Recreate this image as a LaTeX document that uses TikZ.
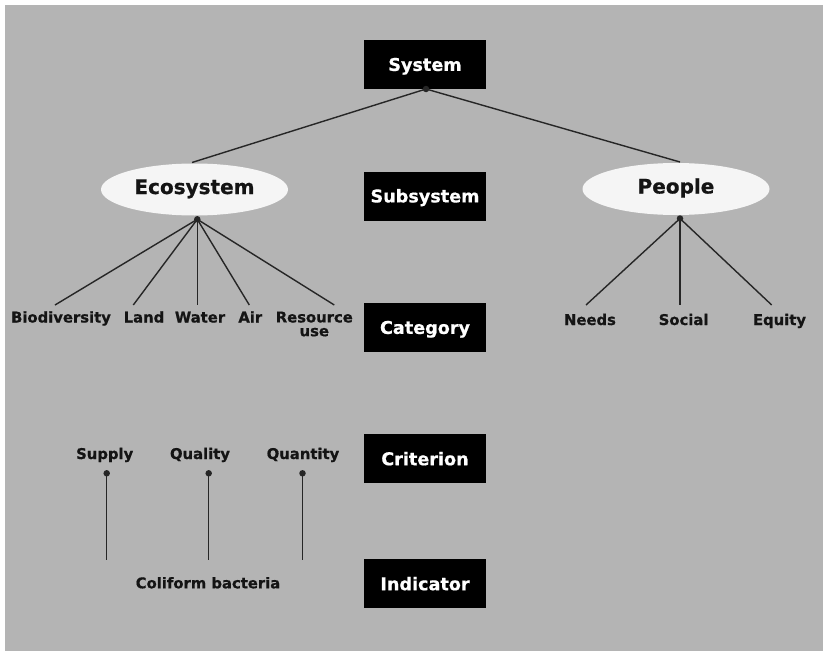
\documentclass[tikz,border=0pt]{standalone}
\usepackage{fontspec}
\setmainfont{DejaVu Sans}[BoldFeatures={FakeBold=0.7}]
\usetikzlibrary{shapes.geometric}
\definecolor{bgcol}{HTML}{B4B4B4}
\definecolor{ellcol}{HTML}{F5F5F5}
\definecolor{linecol}{HTML}{262626}
\definecolor{labelcol}{HTML}{141414}
\tikzset{
  levelbox/.style={fill=black, text=white, font=\bfseries\fontsize{17.6}{20}\selectfont,
    minimum width=122pt, minimum height=49pt, inner sep=0pt, text height=12.8pt, text depth=0pt},
  subsys/.style={ellipse, fill=ellcol, text=labelcol, font=\bfseries\fontsize{20}{22}\selectfont,
    minimum width=187pt, minimum height=52pt, inner sep=0pt, text height=14.6pt, text depth=5.6pt},
  lbl/.style={font=\bfseries\fontsize{14.8}{13.8}\selectfont, text=labelcol, inner sep=0pt, anchor=base},
  conn/.style={line width=1.4pt, draw=linecol},
  dot/.style={circle, fill=linecol, inner sep=0pt, minimum size=6.5pt}
}
\begin{document}
\begin{tikzpicture}[x=1pt,y=-1pt]
\useasboundingbox (0,0) rectangle (823,653);
\fill[white] (0,0) rectangle (823,653);
\fill[bgcol] (5,5) rectangle (823,651);

% level boxes
\node[levelbox] (sys) at (425,64.5) {System};
\node[levelbox] (subsysbox) at (425,196) {Subsystem};
\node[levelbox] (cat) at (425,327.5) {Category};
\node[levelbox] (crit) at (425,458.8) {Criterion};
\node[levelbox] (ind) at (425,583.8) {Indicator};

% subsystems
\node[subsys] (eco) at (194.5,189.5) {Ecosystem};
\node[subsys] (peo) at (676,189) {People};

% attachment points
\coordinate (ecoTop) at (192,162.5);
\coordinate (peoTop) at (680,162);
\node[dot] (sysdot) at (426,89) {};
\node[dot] (ecodot) at (197.3,219.3) {};
\node[dot] (peodot) at (680,218.5) {};

\draw[conn] (sysdot.center) -- (ecoTop);
\draw[conn] (sysdot.center) -- (peoTop);

% ecosystem categories
\node[lbl] (bio) at (61,322.5) {Biodiversity};
\node[lbl] (land) at (144,322.5) {Land};
\node[lbl] (water) at (200,322.5) {Water};
\node[lbl] (air) at (250.3,322.5) {Air};
\node[lbl, anchor=north, align=center] (res) at (314.3,311.4) {Resource\\use};

\coordinate (bioEnd) at (55,305);
\coordinate (landEnd) at (133.3,305);
\coordinate (waterEnd) at (197.3,305);
\coordinate (airEnd) at (249.3,305);
\coordinate (resEnd) at (334.3,305);
\foreach \e in {bioEnd,landEnd,waterEnd,airEnd,resEnd}
  \draw[conn] (ecodot.center) -- (\e);

% people categories
\node[lbl] (needs) at (590,325) {Needs};
\node[lbl] (social) at (683.6,325) {Social};
\node[lbl] (equity) at (779.5,325) {Equity};

\coordinate (needsEnd) at (586,305);
\coordinate (socialEnd) at (680,305);
\coordinate (equityEnd) at (771.7,305);
\foreach \e in {needsEnd,socialEnd,equityEnd}
  \draw[conn] (peodot.center) -- (\e);

% criteria
\node[lbl] (supply) at (104.7,459) {Supply};
\node[lbl] (quality) at (200,459) {Quality};
\node[lbl] (quantity) at (303,459) {Quantity};

\node[dot] (supdot) at (106.7,473.3) {};
\node[dot] (qualdot) at (208.7,473.3) {};
\node[dot] (quantdot) at (302.5,473.3) {};

\coordinate (supEnd) at (106.7,560);
\coordinate (qualEnd) at (208.7,560);
\coordinate (quantEnd) at (302.5,560);
\draw[conn] (supdot.center) -- (supEnd);
\draw[conn] (qualdot.center) -- (qualEnd);
\draw[conn] (quantdot.center) -- (quantEnd);

% indicator
\node[lbl] (coliform) at (208,588.3) {Coliform bacteria};
\end{tikzpicture}
\end{document}
